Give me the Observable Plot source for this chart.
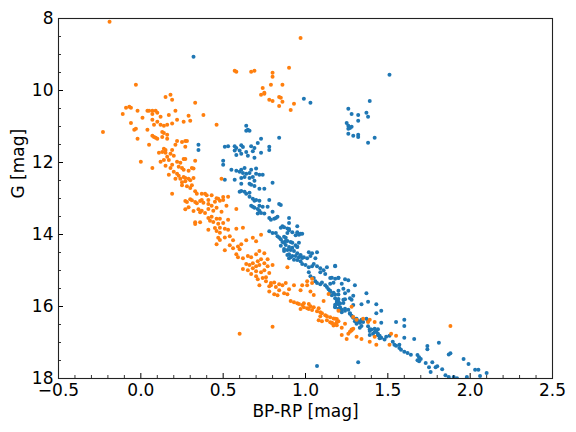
<!DOCTYPE html>
<html>
<head>
<meta charset="utf-8">
<script src="https://cdn.jsdelivr.net/npm/d3@7"></script>
<script src="https://cdn.jsdelivr.net/npm/@observablehq/plot@0.6"></script>
<style>
  html, body { margin: 0; padding: 0; background: #fff; }
</style>
</head>
<body>
<div id="chart"></div>
<script>
// Cluster A (blue): [BP-RP, G]
const blueStars = [
[0.32,9.06],[1.51,9.56],[0.99,10.23],[1.03,10.34],[0.64,10.98],[0.64,11.12],[0.65,11.09],[0.66,11.12],[0.73,11.34],[0.84,11.31],
[1.26,10.51],[1.28,10.65],[1.25,10.90],[1.26,10.98],[1.27,11.04],[1.28,11.01],[1.26,11.06],[1.26,11.20],[1.29,11.26],[1.32,10.68],
[1.32,10.84],[1.32,11.23],[1.32,11.29],[1.37,10.62],[1.38,10.73],[1.39,10.29],[1.42,11.31],[1.38,11.45],
[0.35,11.51],[0.35,11.65],
[0.53,11.55],[0.57,11.55],[0.58,11.60],[0.61,11.52],[0.62,11.57],[0.67,11.55],[0.69,11.60],[0.71,11.46],[0.78,11.56],[0.78,11.65],
[0.51,11.56],[0.57,11.67],[0.60,11.67],[0.64,11.71],[0.68,11.69],[0.73,11.73],[0.58,11.79],[0.61,11.76],[0.65,11.81],[0.69,11.87],
[0.50,11.95],[0.50,12.06],[0.51,12.48],
[0.55,12.20],[0.58,12.23],[0.60,12.26],[0.61,12.20],[0.63,12.15],[0.62,12.29],[0.64,12.31],[0.66,12.29],[0.67,12.20],[0.70,12.17],
[0.72,12.34],[0.74,12.34],[0.70,12.31],
[0.57,12.48],[0.61,12.43],[0.63,12.40],[0.66,12.43],[0.68,12.40],[0.69,12.51],[0.80,12.56],
[0.61,12.59],[0.66,12.59],[0.67,12.62],[0.69,12.65],[0.72,12.73],[0.75,12.73],
[0.60,12.81],[0.61,12.79],[0.63,12.81],[0.64,12.87],[0.66,12.84],[0.66,12.95],[0.68,13.01],[0.69,13.06],[0.70,13.04],[0.72,13.06],[0.78,13.04],
[0.67,13.20],[0.68,13.23],[0.69,13.26],[0.71,13.29],[0.72,13.20],[0.74,13.23],[0.72,13.34],[0.73,13.40],[0.77,13.23],[0.80,13.37],[0.84,13.15],[0.85,13.18],
[0.71,13.42],[0.75,13.42],[0.78,13.54],[0.79,13.59],[0.81,13.56],[0.82,13.54],[0.83,13.51],[0.90,13.54],
[0.86,13.77],[0.87,13.80],[0.89,13.83],[0.90,13.85],[0.90,13.88],[0.95,13.77],[0.95,13.94],[0.92,13.94],[0.94,14.02],[0.89,13.96],
[0.78,13.91],[0.80,13.96],[0.82,13.96],[0.83,14.05],[0.84,14.08],[0.85,14.13],[0.86,14.21],[0.88,14.18],[0.91,14.21],[0.94,14.30],[0.95,14.35],
[0.90,14.35],[0.91,14.43],[0.93,14.46],[0.95,14.52],[0.97,14.59],[1.02,14.49],[1.04,14.52],[1.07,14.49],[1.06,14.66],[1.01,14.66],
[0.90,13.68],[0.97,13.98],[0.98,13.98],[0.96,14.01],[0.96,14.23],[0.95,14.34],[0.92,14.23],[0.85,13.81],[0.87,14.06],[0.88,14.09],
[0.89,14.18],[0.87,14.23],[0.88,14.29],[0.85,14.31],[0.87,14.40],[0.89,14.43],[0.92,14.37],[0.90,14.55],[0.92,14.60],[0.94,14.60],
[0.96,14.63],[0.98,14.65],[0.93,14.70],[0.90,14.66],
[0.87,14.46],[0.89,14.57],[0.91,14.63],[0.97,14.57],[0.99,14.63],[1.03,14.60],[0.95,14.71],[0.97,14.74],[0.98,14.82],[1.00,14.85],
[1.02,14.91],[1.04,14.88],[1.05,14.82],[1.07,14.88],[1.09,14.94],[1.11,14.99],[1.13,14.91],[1.02,15.05],[1.03,15.16],[1.05,15.21],
[1.06,15.30],[1.07,15.35],[1.09,15.38],[1.10,15.33],[1.12,15.41],[1.13,15.46],[1.14,15.52],[1.15,15.60],[1.16,15.69],[1.18,15.77],
[1.19,15.85],[1.20,15.94],[1.21,16.02],[1.18,16.02],[1.21,16.10],[1.22,16.16],[1.09,15.05],[1.12,15.10],[1.15,15.21],[1.18,14.88],
[1.20,15.21],[1.24,15.24],[1.26,15.27],[1.30,15.41],[1.24,15.63],[1.27,15.77],[1.24,15.80],[1.29,15.96],[1.37,15.63],[1.43,15.94],
[1.43,16.19],[1.34,15.94],[1.27,16.19],[1.29,16.30],[1.30,16.41],[1.34,16.41],[1.38,16.55],[1.39,16.63],[1.42,16.71],[1.44,16.80],
[1.44,16.63],[1.45,16.88],
[1.18,14.87],[1.16,15.20],[1.18,15.23],[1.20,15.20],[1.17,15.34],[1.15,15.37],[1.22,15.37],[1.23,15.51],[1.26,15.56],[1.15,15.56],
[1.17,15.62],[1.18,15.67],[1.20,15.56],[1.20,15.67],[1.20,15.79],[1.19,15.90],[1.18,15.95],[1.20,15.87],[1.21,15.92],[1.23,15.90],
[1.18,16.01],[1.20,16.06],[1.22,16.09],[1.24,16.12],[1.24,16.06],[1.26,16.09],[1.29,15.70],[1.28,15.81],[1.23,15.81],[1.38,15.87],
[1.46,16.12],[1.27,16.20],[1.28,16.26],[1.29,16.31],[1.31,16.34],[1.32,16.40],[1.33,16.45],[1.34,16.37],[1.35,16.43],[1.37,16.34],
[1.38,16.40],[1.31,16.48],[1.34,16.54],[1.33,16.59],[1.46,16.45],[1.39,16.68],[1.40,16.64],[1.42,16.62],[1.43,16.70],[1.39,16.79],
[1.41,16.76],[1.44,16.76],[1.45,16.81],[1.46,16.87],[1.48,16.92],[1.49,16.84],[1.51,16.81],[1.53,16.98],[1.54,17.06],[1.55,17.09],
[1.57,17.06],[1.57,17.15],[1.58,17.20],[1.60,17.26],[1.62,17.29],[1.64,17.34],[1.55,16.43],[1.60,16.37],[1.60,16.54],[1.60,16.87],
[1.66,16.90],[1.68,17.35],[1.69,17.41],[1.70,17.46],[1.69,17.52],[1.68,17.49],[1.74,17.10],[1.74,17.19],[1.73,17.57],[1.75,17.69],
[1.79,17.69],[1.77,17.55],[1.80,17.66],[1.76,17.82],[1.81,17.01],[1.83,17.74],[1.87,17.33],[1.88,17.30],[1.96,17.46],[1.99,17.60],
[2.03,17.76],[2.05,17.76],[2.06,17.93],[2.10,17.85],[1.98,17.96],[1.85,17.91],[1.87,17.96],[1.90,17.96],[1.92,17.99],[1.32,17.55],
[1.07,17.65]
];

// Cluster B (orange): [BP-RP, G]
const orangeStars = [
[0.97,8.54],[0.57,9.45],[0.58,9.48],[0.67,9.48],[0.69,9.45],[0.80,9.51],[0.80,9.62],[0.90,9.37],[0.79,9.84],[0.86,9.84],
[0.74,9.93],[0.75,10.06],[0.73,10.12],[0.75,10.09],[0.78,10.26],[0.80,10.29],[0.84,10.18],[0.85,10.20],[0.86,10.31],[0.93,10.37],
[0.84,10.43],[0.91,10.54],
[0.33,10.34],[0.29,10.70],[0.30,10.84],[0.26,10.87],[0.38,10.68],[0.46,10.95],
[-0.19,8.09],[-0.03,9.84],[0.15,10.18],[0.18,10.12],[0.19,10.26],[0.21,10.56],[-0.11,10.65],[-0.09,10.48],[-0.07,10.45],[-0.06,10.48],
[-0.02,10.56],[-0.06,10.90],[-0.04,11.09],[-0.03,11.06],[0.01,10.76],[0.04,10.56],[0.05,10.56],[0.07,10.56],[0.09,10.56],[0.10,10.62],
[0.07,10.65],[0.12,10.73],[0.07,10.81],[0.17,10.68],[0.22,10.81],[0.08,10.95],[0.10,10.87],[0.12,10.95],[0.14,10.98],[0.16,10.95],
[0.19,10.92],[-0.23,11.15],[0.04,11.09],[-0.02,11.34],[0.07,11.26],[0.08,11.29],[0.09,11.31],[0.10,11.34],[0.13,11.29],[0.16,11.23],
[0.16,11.34],[0.14,11.18],[0.22,11.40],[0.27,11.40],
[0.05,11.51],[0.25,11.43],[0.28,11.40],[0.21,11.51],[0.27,11.56],[0.13,11.15],[0.00,11.98],[0.07,12.15],[0.14,11.62],[0.15,11.65],
[0.15,11.73],[0.13,11.71],[0.19,11.65],[0.11,11.73],[0.18,11.76],[0.16,11.84],[0.17,11.93],[0.20,11.81],[0.14,11.93],[0.12,11.98],
[0.26,11.90],[0.27,11.90],[0.22,11.98],[0.24,12.01],[0.33,11.95],[0.19,12.06],[0.15,12.09],[0.18,12.15],[0.23,12.12],[0.25,12.15],
[0.26,12.20],[0.29,12.23],[0.31,12.15],[0.32,12.17],[0.20,12.26],[0.22,12.31],[0.23,12.37],[0.26,12.40],[0.17,12.34],[0.21,12.45],
[0.24,12.45],[0.27,12.43],[0.29,12.45],[0.32,12.43],[0.49,12.45],
[0.25,12.55],[0.27,12.52],[0.30,12.49],[0.25,12.63],[0.28,12.66],[0.31,12.63],[0.30,12.71],[0.33,12.80],[0.19,12.87],[0.34,12.87],
[0.27,13.07],[0.28,13.10],[0.30,13.02],[0.31,13.05],[0.33,13.10],[0.34,13.13],[0.36,13.07],[0.27,13.30],[0.32,13.35],[0.35,13.30],
[0.29,13.24],[0.33,13.66],[0.33,13.71],[0.36,13.66],[0.36,13.38],[0.40,12.91],[0.43,12.91],[0.46,12.99],[0.50,12.96],
[0.37,12.87],[0.39,12.87],[0.37,13.04],[0.38,13.12],[0.41,13.04],[0.41,13.15],[0.43,13.20],[0.45,13.09],[0.47,13.01],[0.48,13.06],
[0.50,13.04],[0.53,12.95],[0.52,13.20],[0.41,13.29],[0.44,13.34],[0.46,13.26],[0.49,13.37],[0.37,13.34],[0.39,13.40],[0.41,13.54],
[0.43,13.51],[0.46,13.56],[0.48,13.56],[0.42,13.62],[0.44,13.65],[0.47,13.70],[0.50,13.68],[0.53,13.59],[0.58,13.29],[0.41,13.87],
[0.45,13.82],[0.46,13.90],[0.48,13.81],[0.48,13.95],[0.51,13.84],[0.53,13.87],[0.58,13.84],[0.62,13.81],[0.47,14.09],[0.48,14.15],
[0.51,14.08],[0.54,14.05],[0.56,14.16],[0.46,14.27],[0.51,14.44],[0.54,14.30],[0.56,14.38],[0.59,14.33],[0.60,14.41],[0.61,14.27],
[0.64,14.16],[0.68,14.09],[0.70,14.19],[0.73,14.01],[0.58,14.55],[0.59,14.63],[0.62,14.66],[0.65,14.60],[0.67,14.63],[0.70,14.55],
[0.72,14.46],[0.75,14.52],[0.77,14.69],
[0.71,14.74],[0.73,14.69],[0.64,14.82],[0.66,14.85],[0.68,14.80],[0.62,14.96],[0.65,14.99],[0.68,14.94],[0.70,14.88],[0.72,14.85],
[0.75,14.80],[0.77,14.88],[0.80,14.85],[0.70,15.02],[0.73,15.05],[0.75,14.99],[0.78,15.07],[0.67,15.10],[0.70,15.16],[0.71,15.24],
[0.74,15.21],[0.76,15.19],[0.72,15.41],[0.76,15.30],[0.79,15.35],[0.81,15.33],[0.78,15.44],[0.79,15.41],[0.82,15.46],[0.84,15.38],
[0.86,15.41],[0.88,15.35],[0.90,15.52],[0.84,15.55],[0.87,15.63],[0.89,15.66],[0.78,15.58],[0.81,15.66],[0.83,15.69],[0.93,15.41],
[0.97,15.55],[0.98,15.41],[1.01,15.41],[1.01,15.30],[1.03,15.58],[1.04,15.35],
[0.91,15.85],[0.93,15.88],[0.95,15.91],[0.96,15.93],[0.98,15.96],[0.99,15.91],[0.99,16.02],[1.01,16.05],[1.02,16.07],[1.03,15.99],
[1.04,16.10],[1.07,16.13],[1.09,16.16],[1.10,16.19],[1.12,16.24],[1.13,16.27],[1.15,16.30],[1.17,16.33],[1.19,16.35],[1.20,16.41],
[1.02,15.93],[1.05,16.02],[1.08,16.05],[0.97,16.07],[1.08,16.38],[1.10,16.41],[1.13,16.38],[1.15,16.44],[1.16,16.46],[1.18,16.49],
[1.19,16.52],[1.09,16.27],
[0.60,16.76],[0.80,16.56],[1.04,15.23],[1.11,15.85],[1.14,15.65],[1.05,15.68],[0.89,14.91],
[1.20,16.12],[1.28,16.01],[1.16,16.45],[1.17,16.53],[1.18,16.34],[1.19,16.44],[1.18,16.50],[1.24,16.48],[1.22,16.59],[1.22,16.79],
[1.25,16.90],[1.26,16.76],[1.27,16.70],[1.28,16.67],[1.28,16.64],[1.29,16.62],[1.31,16.84],[1.29,16.29],[1.31,16.37],[1.34,16.90],
[1.35,16.34],[1.38,16.43],[1.39,16.37],[1.42,16.43],[1.39,16.98],[1.43,17.06],[1.42,16.84],[1.52,16.76],[1.55,16.81],[1.51,17.06],
[1.88,16.54]
];

// Axis ticks and labels
const xMajorTicks = [-0.5, 0.0, 0.5, 1.0, 1.5, 2.0, 2.5];
const xMinorTicks = [-0.4,-0.3,-0.2,-0.1,0.1,0.2,0.3,0.4,0.6,0.7,0.8,0.9,1.1,1.2,1.3,1.4,1.6,1.7,1.8,1.9,2.1,2.2,2.3,2.4];
const yMajorTicks = [8, 10, 12, 14, 16, 18];
const yMinorTicks = [8.5, 9, 9.5, 10.5, 11, 11.5, 12.5, 13, 13.5, 14.5, 15, 15.5, 16.5, 17, 17.5];
const xLabel = "BP-RP [mag]";
const yLabel = "G [mag]";
const colorBlue = "#1f77b4";
const colorOrange = "#ff7f0e";

const W = 576, H = 432;
const mL = 58, mR = 24, mT = 18, mB = 54;
const innerW = W - mL - mR, innerH = H - mT - mB;

const fmtX = d => (d < 0 ? "\u2212" : "") + Math.abs(d).toFixed(1);

const chart = Plot.plot({
  width: W,
  height: H,
  marginLeft: mL,
  marginRight: mR,
  marginTop: mT,
  marginBottom: mB,
  style: {fontFamily: "DejaVu Sans", fontSize: "17px", background: "white", color: "black"},
  x: {domain: [-0.5, 2.5]},
  y: {domain: [18, 8]},
  marks: [
    Plot.dot(blueStars, {x: d => d[0], y: d => d[1], r: 2, fill: colorBlue, stroke: "none", clip: true}),
    Plot.dot(orangeStars, {x: d => d[0], y: d => d[1], r: 2, fill: colorOrange, stroke: "none", clip: true}),
    Plot.tickX(xMajorTicks, {x: d => d, insetTop: innerH - 5, stroke: "black", strokeWidth: 1}),
    Plot.tickX(xMinorTicks, {x: d => d, insetTop: innerH - 3, stroke: "black", strokeWidth: 0.8}),
    Plot.tickY(yMajorTicks, {y: d => d, insetRight: innerW - 5, stroke: "black", strokeWidth: 1}),
    Plot.tickY(yMinorTicks, {y: d => d, insetRight: innerW - 3, stroke: "black", strokeWidth: 0.8}),
    Plot.axisX(xMajorTicks, {tickSize: 0, tickPadding: 5, tickFormat: fmtX, label: null, fontSize: 17}),
    Plot.axisY(yMajorTicks, {tickSize: 0, tickPadding: 5, tickFormat: d => String(d), label: null, fontSize: 17}),
    Plot.frame({stroke: "#222", strokeWidth: 1.1}),
    Plot.text([xLabel], {text: d => d, frameAnchor: "bottom", lineAnchor: "top", dy: 26, fontSize: 17, fill: "black"}),
    Plot.text([yLabel], {text: d => d, frameAnchor: "left", rotate: -90, dx: -40, fontSize: 17, fill: "black"})
  ]
});

document.getElementById("chart").appendChild(chart);
</script>
</body>
</html>
